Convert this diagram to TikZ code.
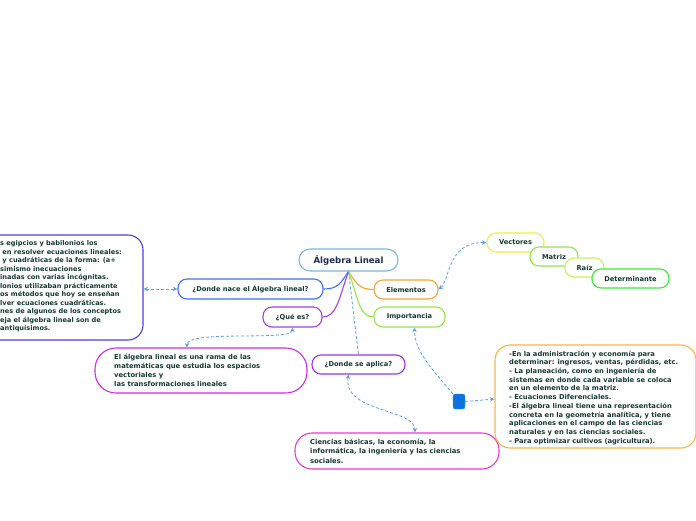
\documentclass[tikz,border=0pt]{standalone}
\usepackage{fontspec}
\setmainfont{DejaVu Sans}
\usetikzlibrary{arrows.meta}
\definecolor{txt}{HTML}{163A30}
\definecolor{ttl}{HTML}{1C2B52}
\definecolor{cmain}{HTML}{7AB8E0}
\definecolor{cnace}{HTML}{3D6FF0}
\definecolor{cque}{HTML}{A53EF0}
\definecolor{celem}{HTML}{F5A43A}
\definecolor{cimp}{HTML}{95E84A}
\definecolor{capl}{HTML}{9A35E8}
\definecolor{cleft}{HTML}{4A3FE0}
\definecolor{celal}{HTML}{D42AE8}
\definecolor{ccien}{HTML}{E83ACF}
\definecolor{cvec}{HTML}{F2EE3A}
\definecolor{cmat}{HTML}{8CEB3C}
\definecolor{craiz}{HTML}{C8F060}
\definecolor{cdet}{HTML}{3EE83E}
\definecolor{cright}{HTML}{F8B54A}
\definecolor{csq}{HTML}{0B72E0}
\definecolor{clink}{HTML}{5AA0E8}
\tikzset{
  x=1pt, y=-1pt,
  topic/.style={draw, line width=1.1pt, fill=white, rounded corners=9pt, inner sep=0pt,
    font=\fontsize{6.7}{8}\selectfont\bfseries, text=txt},
  bigbox/.style={draw, line width=1.1pt, fill=white, inner sep=0pt},
  bodytext/.style={inner sep=0pt, anchor=north west, align=left, text=txt},
  link/.style={clink, line width=0.8pt, dash pattern=on 3pt off 2pt,
    {Stealth[length=4.5pt,width=4.5pt]}-{Stealth[length=4.5pt,width=4.5pt]}},
  linkone/.style={clink, line width=0.8pt, dash pattern=on 3pt off 2pt,
    -{Stealth[length=4.5pt,width=4.5pt]}},
  branch/.style={line width=1.1pt},
}
\begin{document}
\begin{tikzpicture}
\useasboundingbox (0,0) rectangle (696,520);
\clip (0,0) rectangle (696,520);
\fill[white] (0,0) rectangle (696,520);

% main topic
\node[topic, draw=cmain, minimum width=99pt, minimum height=22pt, rounded corners=11pt,
  font=\fontsize{8.6}{9}\selectfont\bfseries, text=ttl] (main) at (348.5,260) {Álgebra Lineal};

% sub topics
\node[topic, draw=cnace, minimum width=145pt, minimum height=20pt] (nace) at (250.5,289) {¿Donde nace el Álgebra lineal?};
\node[topic, draw=cque, minimum width=59pt, minimum height=20pt] (que) at (292.5,317) {¿Qué es?};
\node[topic, draw=celem, minimum width=64pt, minimum height=19pt] (elem) at (406,289.5) {Elementos};
\node[topic, draw=cimp, minimum width=71pt, minimum height=20pt] (imp) at (409.5,317) {Importancia};
\node[topic, draw=capl, minimum width=93pt, minimum height=19pt] (apl) at (358.5,364.5) {¿Donde se aplica?};

% elements
\node[topic, draw=cvec, minimum width=57pt, minimum height=19pt] (vec) at (515.5,242.5) {Vectores};
\node[topic, draw=cmat, minimum width=48pt, minimum height=19pt] (mat) at (554,256.5) {Matriz};
\node[topic, draw=craiz, minimum width=39pt, minimum height=19pt] (raiz) at (584.5,267.5) {Raíz};
\node[topic, draw=cdet, minimum width=77pt, minimum height=19pt] (det) at (630.5,278.5) {Determinante};

% big boxes
\node[bigbox, draw=cleft, rounded corners=15pt, minimum width=203pt, minimum height=105pt] (leftbox) at (41.5,287.5) {};
\node[bodytext, font=\fontsize{6.6}{8.5}\selectfont\bfseries] (lefttext) at (0,240.5) {%
s egipcios y babilonios los\\
\ en resolver ecuaciones lineales:\\
\ y cuadráticas de la forma: (a+\\
simismo inecuaciones\\
inadas con varias incógnitas.\\
lonios utilizaban prácticamente\\
os métodos que hoy se enseñan\\
lver ecuaciones cuadráticas.\\
nes de algunos de los conceptos\\
eja el álgebra lineal son de\\
antiquísimos.};

\node[bigbox, draw=celal, rounded corners=21pt, minimum width=212pt, minimum height=45pt] (elal) at (201,370.5) {};
\node[bodytext, font=\fontsize{6.8}{9}\selectfont\bfseries] (elaltext) at (114,353.5) {%
El álgebra lineal es una rama de las\\
matemáticas que estudia los espacios\\
vectoriales y\\
las transformaciones lineales};

\node[bigbox, draw=ccien, rounded corners=17pt, minimum width=204pt, minimum height=36pt] (cien) at (397,451) {};
\node[bodytext, font=\fontsize{6.8}{9.5}\selectfont\bfseries] (cientext) at (310,438.5) {%
Ciencias básicas, la economía, la\\
informática, la ingeniería y las ciencias\\
sociales.};

\node[bigbox, draw=cright, rounded corners=15pt, minimum width=201pt, minimum height=103pt] (right) at (595.5,396.5) {};
\node[bodytext, font=\fontsize{6.75}{8.7}\selectfont\bfseries] (righttext) at (509,350.5) {%
-En la administración y economía para\\
determinar: ingresos, ventas, pérdidas, etc.\\
- La planeación, como en ingeniería de\\
sistemas en donde cada variable se coloca\\
en un elemento de la matriz.\\
- Ecuaciones Diferenciales.\\
-El álgebra lineal tiene una representación\\
concreta en la geometría analítica, y tiene\\
aplicaciones en el campo de las ciencias\\
naturales y en las ciencias sociales.\\
- Para optimizar cultivos (agricultura).};

\node[fill=csq, draw=csq!70, rounded corners=2pt, minimum width=12pt, minimum height=15pt, inner sep=0pt] (sq) at (459,401.5) {};

% branches from main
\draw[branch, cnace] (main.south) .. controls +(-8,12) and +(14,0) .. (nace.east);
\draw[branch, cque] (main.south) .. controls +(-10,28) and +(14,0) .. (que.east);
\draw[branch, celem] (main.south) .. controls +(8,12) and +(-14,0) .. (elem.west);
\draw[branch, cimp] (main.south) .. controls +(10,28) and +(-14,0) .. (imp.west);
\draw[clink, line width=0.8pt, dash pattern=on 3pt off 2pt] (main.south) -- (apl.north);

% dashed links
\draw[link] (leftbox.east |- nace.west) -- (nace.west);
\draw[link] (que.south) .. controls +(0,14) and +(0,-18) .. ([xshift=-14pt]elal.north);
\draw[link] (elem.east) .. controls +(12,-10) and +(-40,0) .. (vec.west);
\draw[linkone] (sq.north west) .. controls +(-18,-22) and +(0,25) .. ([xshift=5pt]imp.south);
\draw[linkone] (sq.east) -- (right.west |- 0,399);
\draw[link] ([xshift=-10pt]apl.south) .. controls +(-6,38) and +(0,-24) .. ([xshift=18pt]cien.north);
\end{tikzpicture}
\end{document}
